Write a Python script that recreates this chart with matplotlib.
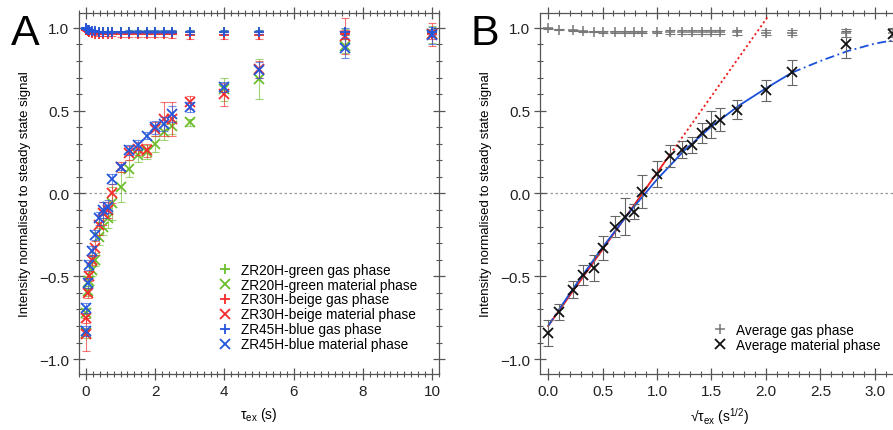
import matplotlib
matplotlib.use("Agg")
import matplotlib.pyplot as plt
import numpy as np
from matplotlib.ticker import MultipleLocator

plt.rcParams["font.family"] = ["Liberation Sans", "DejaVu Sans"]
plt.rcParams["mathtext.fontset"] = "custom"
plt.rcParams["mathtext.rm"] = "Liberation Sans"
plt.rcParams["mathtext.it"] = "Liberation Sans:italic"
plt.rcParams["mathtext.bf"] = "Liberation Sans:bold"

# exchange times (s)
tau = [0, 0.01, 0.05, 0.1, 0.175, 0.25, 0.375, 0.5, 0.625, 0.75, 1.0, 1.25,
       1.5, 1.75, 2.0, 2.25, 2.5, 3.0, 4.0, 5.0, 7.5, 10.0]

# A: individual samples
green_gas = [0.995, 0.99, 0.985, 0.98, 0.978, 0.976, 0.975, 0.975, 0.975, 0.975, 0.975,
             0.975, 0.975, 0.975, 0.975, 0.975, 0.975, 0.975, 0.975, 0.975, 0.975, 0.97]
green_gas_err = [0.004, 0.004, 0.005, 0.005, 0.005, 0.006, 0.006, 0.006, 0.007, 0.008, 0.008,
                 0.01, 0.01, 0.01, 0.01, 0.01, 0.012, 0.012, 0.015, 0.015, 0.02, 0.02]
green_mat = [-0.84, -0.72, -0.59, -0.53, -0.46, -0.40, -0.26, -0.20, -0.15, -0.06, 0.04,
             0.15, 0.23, 0.25, 0.30, 0.37, 0.41, 0.43, 0.63, 0.69, 0.89, 0.96]
green_mat_err = [0.03, 0.03, 0.03, 0.03, 0.04, 0.04, 0.05, 0.05, 0.06, 0.10, 0.09,
                 0.05, 0.04, 0.04, 0.05, 0.05, 0.05, 0.02, 0.07, 0.12, 0.04, 0.05]

red_gas = [0.99, 0.985, 0.98, 0.975, 0.97, 0.965, 0.963, 0.96, 0.96, 0.96, 0.96,
           0.96, 0.96, 0.96, 0.96, 0.96, 0.96, 0.955, 0.955, 0.955, 0.96, 0.96]
red_gas_err = [0.005, 0.006, 0.006, 0.008, 0.008, 0.01, 0.01, 0.012, 0.012, 0.012, 0.015,
               0.015, 0.015, 0.015, 0.015, 0.015, 0.02, 0.02, 0.02, 0.02, 0.03, 0.03]
red_mat = [-0.85, -0.75, -0.60, -0.50, -0.40, -0.33, -0.19, -0.12, -0.10, 0.00, 0.16,
           0.245, 0.27, 0.26, 0.39, 0.45, 0.45, 0.55, 0.60, 0.75, 0.95, 0.96]
red_mat_err = [0.10, 0.03, 0.03, 0.03, 0.03, 0.04, 0.06, 0.07, 0.05, 0.06, 0.03,
               0.04, 0.04, 0.04, 0.04, 0.10, 0.10, 0.04, 0.07, 0.05, 0.11, 0.07]

blue_gas = [1.0, 0.995, 0.99, 0.985, 0.982, 0.98, 0.978, 0.978, 0.977, 0.977, 0.977,
            0.977, 0.977, 0.977, 0.977, 0.977, 0.977, 0.977, 0.977, 0.977, 0.977, 0.975]
blue_gas_err = [0.003, 0.003, 0.004, 0.004, 0.005, 0.005, 0.005, 0.006, 0.006, 0.006, 0.007,
                0.008, 0.008, 0.008, 0.01, 0.01, 0.01, 0.012, 0.012, 0.012, 0.02, 0.02]
blue_mat = [-0.83, -0.69, -0.54, -0.43, -0.35, -0.25, -0.15, -0.10, -0.08, 0.09, 0.16,
            0.265, 0.29, 0.35, 0.40, 0.42, 0.48, 0.52, 0.645, 0.745, 0.88, 0.955]
blue_mat_err = [0.03, 0.03, 0.03, 0.03, 0.03, 0.03, 0.04, 0.05, 0.04, 0.03, 0.02,
                0.03, 0.03, 0.02, 0.04, 0.04, 0.05, 0.03, 0.03, 0.05, 0.06, 0.05]

samples = [
    ("ZR20H-green", "#6cbf2c", green_gas, green_gas_err, green_mat, green_mat_err),
    ("ZR30H-beige", "#f52a2a", red_gas, red_gas_err, red_mat, red_mat_err),
    ("ZR45H-blue", "#2456dc", blue_gas, blue_gas_err, blue_mat, blue_mat_err),
]

# B: averages
avg_gas = [0.998, 0.99, 0.985, 0.98, 0.978, 0.977, 0.976, 0.976, 0.975, 0.975, 0.975,
           0.975, 0.975, 0.975, 0.975, 0.974, 0.974, 0.973, 0.972, 0.972, 0.97, 0.97]
avg_gas_err = [0.003, 0.003, 0.004, 0.004, 0.005, 0.005, 0.005, 0.006, 0.006, 0.007, 0.008,
               0.01, 0.01, 0.01, 0.012, 0.012, 0.012, 0.015, 0.015, 0.015, 0.025, 0.025]
avg_mat = [-0.843, -0.717, -0.58, -0.49, -0.45, -0.33, -0.20, -0.14, -0.11, 0.01, 0.12,
           0.225, 0.265, 0.29, 0.365, 0.415, 0.446, 0.506, 0.622, 0.733, 0.90, 0.96]
avg_mat_err = [0.077, 0.05, 0.052, 0.06, 0.078, 0.073, 0.063, 0.11, 0.044, 0.10, 0.078,
               0.065, 0.05, 0.048, 0.06, 0.08, 0.07, 0.058, 0.062, 0.075, 0.084, 0.04]

# fitted lines (x in s^1/2)
lin_fit_x = [0.0, 1.12]
lin_fit_y = [-0.80, 0.236]
lin_ext_x = [1.12, 2.02]
lin_ext_y = [0.236, 1.07]
curve_fit_x = [0.1, 0.25, 0.5, 0.75, 1.0, 1.25, 1.5, 1.75, 2.0, 2.24]
curve_fit_y = [-0.70, -0.555, -0.325, -0.11, 0.085, 0.26, 0.405, 0.53, 0.635, 0.73]
curve_lo_x = [0.0, 0.1]
curve_lo_y = [-0.80, -0.70]
curve_hi_x = [2.24, 2.5, 2.75, 3.0, 3.25]
curve_hi_y = [0.73, 0.80, 0.86, 0.905, 0.935]

fig = plt.figure(figsize=(8.93, 4.31), dpi=100)
axA = fig.add_axes([0.0885, 0.130, 0.403, 0.8376])
axB = fig.add_axes([0.6047, 0.130, 0.403, 0.8376])

ylab = "Intensity normalised to steady state signal"
for ax in (axA, axB):
    for s in ax.spines.values():
        s.set_color("#555555")
        s.set_linewidth(0.9)
    ax.tick_params(which="both", direction="inout", top=True, right=True,
                   colors="#555555", labelcolor="#222222", labelsize=11, pad=3)
    ax.tick_params(which="major", length=8, width=0.9)
    ax.tick_params(which="minor", length=5, width=0.8)
    ax.axhline(0, color="#999999", ls=(0, (2, 2)), lw=0.9, zorder=0)
    ax.set_ylim(-1.09, 1.09)
    ax.yaxis.set_major_locator(MultipleLocator(0.5))
    ax.yaxis.set_minor_locator(MultipleLocator(0.1))
    ax.set_ylabel(ylab, fontsize=9.5, labelpad=6)

# panel A
for name, c, g, ge, m, me in samples:
    axA.errorbar(tau, g, yerr=ge, fmt="none", ecolor=c, elinewidth=0.8, capsize=3,
                 capthick=0.8, alpha=0.65)
    axA.errorbar(tau, m, yerr=me, fmt="none", ecolor=c, elinewidth=0.8, capsize=3,
                 capthick=0.8, alpha=0.65)
    axA.plot(tau, g, "+", color=c, ms=7, mew=1.3, ls="none", label=name + " gas phase")
    axA.plot(tau, m, "x", color=c, ms=6.5, mew=1.3, ls="none", label=name + " material phase")

axA.set_xlim(-0.2, 10.2)
axA.xaxis.set_major_locator(MultipleLocator(2))
axA.xaxis.set_minor_locator(MultipleLocator(0.2))
axA.set_xlabel("τ$_{\\mathrm{ex}}$ (s)", fontsize=10, labelpad=5)
axA.legend(loc="upper left", bbox_to_anchor=(0.36, 0.335), frameon=False, fontsize=9.8,
           handlelength=1.0, handletextpad=0.7, labelspacing=0.07, borderpad=0.2)

# panel B
sq = np.sqrt(tau)
axB.plot(lin_fit_x, lin_fit_y, color="#ee1c1c", lw=1.3, zorder=2)
axB.plot(lin_ext_x, lin_ext_y, color="#ee1c1c", lw=1.3, ls=(0, (1.2, 1.5)), zorder=2)
axB.plot(curve_fit_x, curve_fit_y, color="#1a4fdc", lw=1.3, zorder=2)
axB.plot(curve_lo_x, curve_lo_y, color="#1a4fdc", lw=1.3, ls=(0, (5, 2, 1, 2)), zorder=2)
axB.plot(curve_hi_x, curve_hi_y, color="#1a4fdc", lw=1.3, ls=(0, (5, 2, 1, 2)), zorder=2)
axB.errorbar(sq, avg_gas, yerr=avg_gas_err, fmt="none", ecolor="#777777", elinewidth=0.8,
             capsize=3.5, capthick=0.8)
axB.errorbar(sq, avg_mat, yerr=avg_mat_err, fmt="none", ecolor="#666666", elinewidth=0.8,
             capsize=3.5, capthick=0.8)
axB.plot(sq, avg_gas, "+", color="#777777", ms=7, mew=1.1, ls="none", label="Average gas phase")
axB.plot(sq, avg_mat, "x", color="#111111", ms=7, mew=1.3, ls="none", label="Average material phase")

axB.set_xlim(-0.075, 3.23)
axB.xaxis.set_major_locator(MultipleLocator(0.5))
axB.xaxis.set_minor_locator(MultipleLocator(0.1))
axB.set_xlabel("√τ$_{\\mathrm{ex}}$ (s$^{\\mathrm{1/2}}$)", fontsize=10, labelpad=5)
axB.legend(loc="upper left", bbox_to_anchor=(0.455, 0.168), frameon=False, fontsize=9.8,
           handlelength=1.0, handletextpad=0.7, labelspacing=0.07, borderpad=0.2)

fig.text(0.012, 0.968, "A", fontsize=31, va="top", ha="left")
fig.text(0.527, 0.968, "B", fontsize=31, va="top", ha="left")

fig.savefig("out.png", dpi=100)
